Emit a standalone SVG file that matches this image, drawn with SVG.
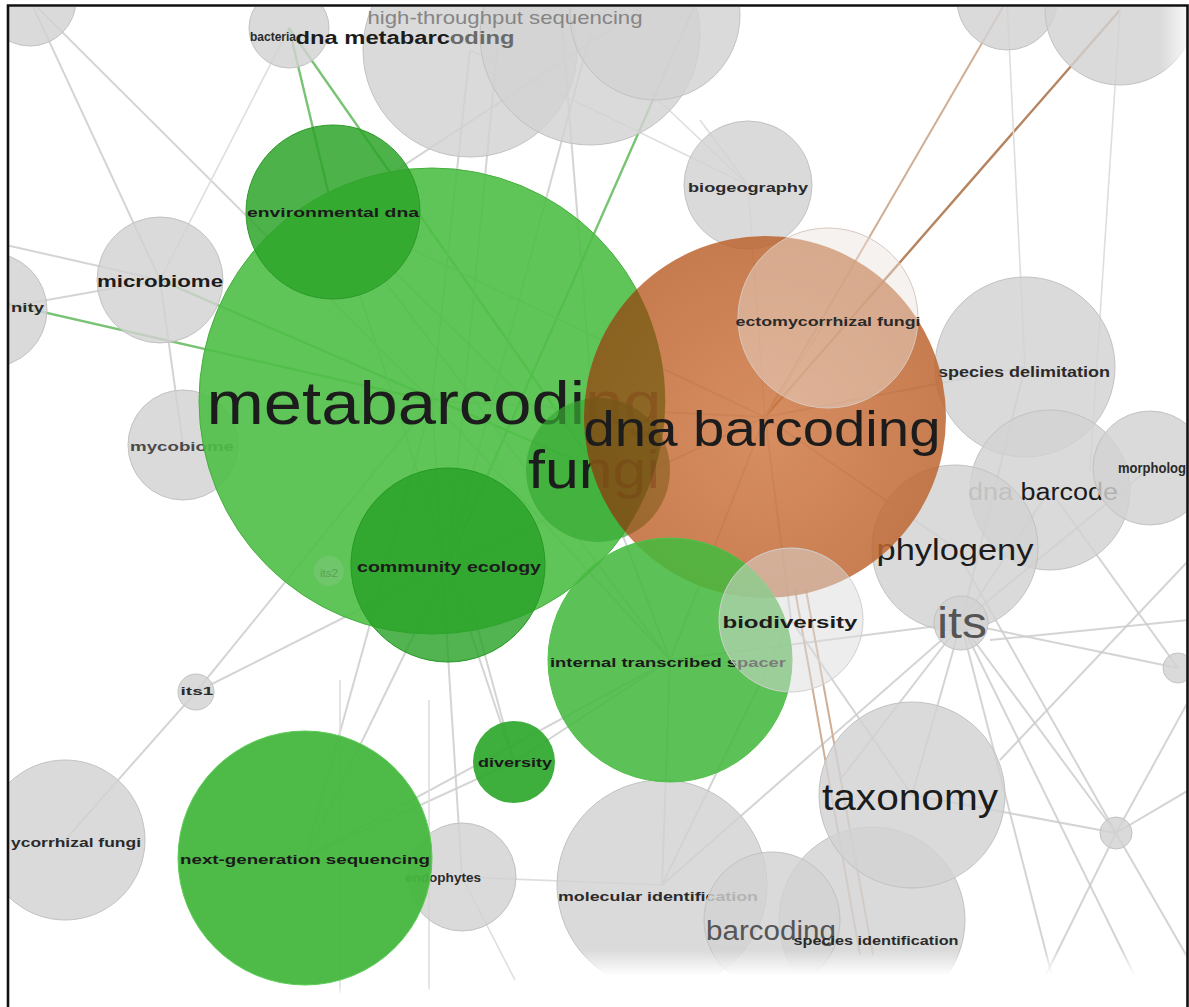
<svg xmlns="http://www.w3.org/2000/svg" width="1189" height="1007" viewBox="0 0 1189 1007">
<defs>
<style>
.g{fill:#d2d2d2;fill-opacity:.82;stroke:#c2c2c2;stroke-width:1}
.t{font-family:"Liberation Sans",Arial,sans-serif;fill:#1c1c1c;text-anchor:middle}
.s{font-weight:bold;font-size:13px;fill:#2a2a2a}
.b{font-weight:bold}
.e{stroke:#cdcdcd;stroke-width:2;fill:none;opacity:.85}
.ef{stroke:#dedede;stroke-width:1.6;fill:none}
.eg{stroke:#62b85c;stroke-width:2.4;fill:none;opacity:.85}
.eo{stroke:#b5835e;stroke-width:2.4;fill:none}
.et{stroke:#cfae95;stroke-width:2;fill:none}
</style>
<clipPath id="frame"><rect x="9" y="7" width="1177" height="1000"/></clipPath>
<clipPath id="oc"><circle cx="765" cy="417" r="181"/></clipPath>
<radialGradient id="og" cx="0.5" cy="0.55" r="0.55">
<stop offset="0" stop-color="#cf7843"/><stop offset="1" stop-color="#bb622c"/>
</radialGradient>
<linearGradient id="fb" x1="0" y1="0" x2="0" y2="1">
<stop offset="0" stop-color="#fff" stop-opacity="0"/><stop offset="0.45" stop-color="#fff" stop-opacity="1"/>
</linearGradient>
<linearGradient id="fr" x1="0" y1="0" x2="1" y2="0">
<stop offset="0" stop-color="#fff" stop-opacity="0"/><stop offset="1" stop-color="#fff" stop-opacity="0.9"/>
</linearGradient>
</defs>
<rect width="1189" height="1007" fill="#fff"/>
<g clip-path="url(#frame)">
<g id="connectors">
<line class="e" x1="30" y1="0" x2="160" y2="280"/>
<line class="e" x1="30" y1="0" x2="432" y2="401"/>
<line class="e" x1="-60" y1="230" x2="160" y2="280"/>
<line class="e" x1="-10" y1="310" x2="160" y2="280"/>
<line class="eg" x1="-10" y1="300" x2="432" y2="401"/>
<line class="eg" x1="160" y1="280" x2="598" y2="470"/>
<line class="e" x1="160" y1="280" x2="183" y2="445"/>
<line class="ef" x1="160" y1="280" x2="289" y2="28"/>
<line class="eg" x1="289" y1="28" x2="333" y2="212"/>
<line class="eg" x1="289" y1="28" x2="598" y2="470"/>
<line class="e" x1="470" y1="50" x2="432" y2="401"/>
<line class="e" x1="500" y1="20" x2="448" y2="565"/>
<line class="e" x1="590" y1="35" x2="448" y2="565"/>
<line class="e" x1="560" y1="0" x2="598" y2="470"/>
<line class="eg" x1="697" y1="0" x2="448" y2="565"/>
<line class="e" x1="640" y1="10" x2="333" y2="212"/>
<line class="ef" x1="470" y1="50" x2="748" y2="185"/>
<line class="ef" x1="590" y1="35" x2="748" y2="185"/>
<line class="ef" x1="748" y1="185" x2="765" y2="417"/>
<line class="ef" x1="700" y1="120" x2="748" y2="185"/>
<line class="eo" x1="765" y1="417" x2="1120" y2="10"/>
<line class="et" x1="765" y1="417" x2="1007" y2="0"/>
<line class="ef" x1="1007" y1="0" x2="1025" y2="367"/>
<line class="ef" x1="1120" y1="10" x2="1090" y2="470"/>
<line class="e" x1="1025" y1="367" x2="961" y2="623"/>
<line class="e" x1="1050" y1="490" x2="961" y2="623"/>
<line class="e" x1="1150" y1="468" x2="961" y2="623"/>
<line class="e" x1="961" y1="623" x2="1116" y2="833"/>
<line class="e" x1="961" y1="623" x2="1178" y2="668"/>
<line class="e" x1="961" y1="623" x2="912" y2="795"/>
<line class="e" x1="961" y1="623" x2="1060" y2="1007"/>
<line class="e" x1="961" y1="623" x2="1150" y2="1007"/>
<line class="e" x1="961" y1="623" x2="840" y2="780"/>
<line class="e" x1="955" y1="548" x2="1116" y2="833"/>
<line class="e" x1="1116" y1="833" x2="1189" y2="700"/>
<line class="e" x1="1116" y1="833" x2="1189" y2="790"/>
<line class="e" x1="1116" y1="833" x2="1030" y2="1007"/>
<line class="e" x1="1116" y1="833" x2="1189" y2="960"/>
<line class="e" x1="912" y1="795" x2="1116" y2="833"/>
<line class="e" x1="1000" y1="760" x2="1189" y2="560"/>
<line class="e" x1="1178" y1="668" x2="1050" y2="490"/>
<line class="e" x1="990" y1="640" x2="1189" y2="620"/>
<line class="e" x1="670" y1="660" x2="961" y2="623"/>
<line class="e" x1="662" y1="885" x2="961" y2="623"/>
<line class="e" x1="662" y1="885" x2="670" y2="660"/>
<line class="e" x1="196" y1="692" x2="432" y2="401"/>
<line class="e" x1="196" y1="692" x2="448" y2="565"/>
<line class="e" x1="196" y1="692" x2="65" y2="840"/>
<line class="e" x1="448" y1="565" x2="305" y2="858"/>
<line class="e" x1="432" y1="401" x2="305" y2="858"/>
<line class="e" x1="432" y1="401" x2="462" y2="877"/>
<line class="e" x1="448" y1="565" x2="514" y2="762"/>
<line class="e" x1="470" y1="600" x2="514" y2="762"/>
<line class="e" x1="305" y1="858" x2="514" y2="762"/>
<line class="e" x1="305" y1="858" x2="670" y2="660"/>
<line class="e" x1="514" y1="762" x2="670" y2="660"/>
<line class="ef" x1="462" y1="877" x2="662" y2="885"/>
<line class="ef" x1="462" y1="877" x2="515" y2="980"/>
<line class="ef" x1="429" y1="700" x2="429" y2="990"/>
<line class="ef" x1="340" y1="680" x2="340" y2="1000"/>
<line class="e" x1="333" y1="212" x2="448" y2="565"/>
<line class="e" x1="333" y1="212" x2="598" y2="470"/>
<line class="e" x1="333" y1="212" x2="670" y2="660"/>
<line class="e" x1="333" y1="212" x2="765" y2="417"/>
<line class="e" x1="432" y1="401" x2="765" y2="417"/>
<line class="e" x1="432" y1="401" x2="670" y2="660"/>
<line class="e" x1="448" y1="565" x2="765" y2="417"/>
<line class="e" x1="598" y1="470" x2="670" y2="660"/>
<line class="e" x1="765" y1="417" x2="828" y2="318"/>
<line class="e" x1="765" y1="417" x2="955" y2="548"/>
<line class="e" x1="765" y1="417" x2="791" y2="620"/>
<line class="e" x1="765" y1="417" x2="670" y2="660"/>
<line class="e" x1="765" y1="417" x2="1025" y2="367"/>
<line class="et" x1="795" y1="590" x2="860" y2="955"/>
<line class="et" x1="806" y1="590" x2="873" y2="955"/>
<line class="e" x1="791" y1="620" x2="912" y2="795"/>
<line class="e" x1="791" y1="620" x2="662" y2="885"/>
</g>
<g id="n-top-left"><circle class="g" cx="30" cy="0" r="46"/></g>
<g id="n-top-a"><circle class="g" cx="470" cy="50" r="107"/></g>
<g id="n-top-b"><circle class="g" cx="590" cy="35" r="110"/></g>
<g id="n-top-c"><circle class="g" cx="655" cy="15" r="85"/></g>
<g id="n-bacteria"><circle class="g" cx="289" cy="28" r="40"/><text class="t s" x="273" y="41" style="font-size:12px" textLength="46" lengthAdjust="spacingAndGlyphs">bacteria</text></g>
<g id="n-dna-metabarcoding"><text class="t b" x="405" y="44" font-size="18" textLength="219" lengthAdjust="spacingAndGlyphs"><tspan>dna metabarc</tspan><tspan fill="#6a6a6a">oding</tspan></text></g>
<g id="n-high-throughput-sequencing"><text class="t" x="505" y="24" font-size="19" textLength="275" lengthAdjust="spacingAndGlyphs" style="fill:#858585">high-throughput sequencing</text></g>
<g id="n-top-d"><circle class="g" cx="1007" cy="0" r="50"/></g>
<g id="n-top-e"><circle class="g" cx="1120" cy="10" r="75"/></g>
<g id="n-biogeography"><circle class="g" cx="748" cy="185" r="64"/><text class="t s" x="748" y="192" textLength="120" lengthAdjust="spacingAndGlyphs">biogeography</text></g>
<g id="n-microbiome"><circle class="g" cx="160" cy="280" r="63"/><text class="t b" x="160" y="287" font-size="16" textLength="126" lengthAdjust="spacingAndGlyphs">microbiome</text></g>
<g id="n-community"><circle class="g" cx="-10" cy="310" r="57"/><text class="t s" x="44" y="312" textLength="33" lengthAdjust="spacingAndGlyphs" style="text-anchor:end">nity</text></g>
<g id="n-mycobiome"><circle class="g" cx="183" cy="445" r="55"/><text class="t s" x="182" y="451" textLength="104" lengthAdjust="spacingAndGlyphs" style="fill:#4a4a4a">mycobiome</text></g>
<g id="n-its1"><circle class="g" cx="196" cy="692" r="18"/><text class="t s" x="197" y="695" style="font-size:11.5px" textLength="33" lengthAdjust="spacingAndGlyphs">its1</text></g>
<g id="n-mycorrhizal-fungi"><circle class="g" cx="65" cy="840" r="80"/><text class="t s" x="11" y="847" textLength="130" lengthAdjust="spacingAndGlyphs" style="text-anchor:start">ycorrhizal fungi</text></g>
<g id="n-endophytes"><circle class="g" cx="462" cy="877" r="54"/><text class="t s" x="443" y="882" textLength="76" lengthAdjust="spacingAndGlyphs">endophytes</text></g>
<g id="n-molecular-identification"><circle class="g" cx="662" cy="885" r="105"/><text class="t s" x="658" y="901" textLength="200" lengthAdjust="spacingAndGlyphs">molecular identification</text></g>
<g id="n-species-identification"><circle class="g" cx="872" cy="920" r="93"/></g>
<g id="n-barcoding"><circle class="g" cx="772" cy="920" r="68"/><text class="t" x="771" y="940" font-size="27" textLength="130" lengthAdjust="spacingAndGlyphs" style="fill:#555">barcoding</text></g>
<g id="n-species-identification-label"><text class="t s" x="876" y="945" textLength="165" lengthAdjust="spacingAndGlyphs">species identification</text></g>
<g id="n-taxonomy"><circle class="g" cx="912" cy="795" r="93"/><text class="t" x="910" y="810" font-size="36" textLength="176" lengthAdjust="spacingAndGlyphs">taxonomy</text></g>
<g id="n-small-1"><circle class="g" cx="1178" cy="668" r="15"/></g>
<g id="n-small-2"><circle class="g" cx="1116" cy="833" r="16"/></g>
<g id="n-species-delimitation"><circle class="g" cx="1025" cy="367" r="90"/><text class="t s" x="1024" y="377" style="font-size:14px" textLength="172" lengthAdjust="spacingAndGlyphs">species delimitation</text></g>
<g id="n-dna-barcode"><circle class="g" cx="1050" cy="490" r="80"/><text class="t" x="1043" y="500" font-size="23" textLength="150" lengthAdjust="spacingAndGlyphs"><tspan fill="#777">dna </tspan><tspan>barcode</tspan></text></g>
<g id="n-morphology"><circle class="g" cx="1150" cy="468" r="57"/><text class="t s" x="1118" y="473" style="font-size:14px;text-anchor:start" textLength="68" lengthAdjust="spacingAndGlyphs">morpholog</text></g>
<g id="n-phylogeny"><circle class="g" cx="955" cy="548" r="83"/><text class="t" x="955" y="560" font-size="30" textLength="157" lengthAdjust="spacingAndGlyphs">phylogeny</text></g>
<g id="n-its"><circle class="g" cx="961" cy="623" r="27"/><text class="t" x="962" y="638" font-size="44" textLength="50" lengthAdjust="spacingAndGlyphs" style="fill:#555">its</text></g>
<g id="n-metabarcoding"><circle cx="432" cy="401" r="233" fill="#4fbf47" fill-opacity=".9" stroke="#45b03d"/><text class="t" x="434" y="424" font-size="62" textLength="455" lengthAdjust="spacingAndGlyphs">metabarcoding</text></g>
<g id="n-its2"><circle cx="329" cy="571" r="15" fill="#8ac884" fill-opacity=".4"/><text class="t" x="329" y="577" font-size="11.5" style="fill:#4a7a45" opacity=".5">its2</text></g>
<g id="n-fungi"><circle cx="598" cy="470" r="72" fill="#38aa33" fill-opacity=".7"/><text class="t" x="594" y="488" font-size="54" textLength="132" lengthAdjust="spacingAndGlyphs">fungi</text></g>
<g id="n-environmental-dna"><circle cx="333" cy="212" r="87" fill="#2ea42a" fill-opacity=".85" stroke="#2a9a26"/><text class="t s" x="333" y="217" style="fill:#1a1a1a" textLength="172" lengthAdjust="spacingAndGlyphs">environmental dna</text></g>
<g id="n-community-ecology"><circle cx="448" cy="565" r="97" fill="#27a025" fill-opacity=".8" stroke="#239a21"/><text class="t b" x="449" y="572" font-size="15.5" textLength="184" lengthAdjust="spacingAndGlyphs">community ecology</text></g>
<g id="n-next-generation-sequencing"><circle cx="305" cy="858" r="127" fill="#44b63e" fill-opacity=".95" stroke="#5ccc55"/><text class="t s" x="305" y="864" style="fill:#1a1a1a" textLength="250" lengthAdjust="spacingAndGlyphs">next-generation sequencing</text></g>
<g id="n-diversity"><circle cx="514" cy="762" r="41" fill="#2ea82c" fill-opacity=".92"/><text class="t s" x="515" y="767" style="fill:#1a1a1a" textLength="74" lengthAdjust="spacingAndGlyphs">diversity</text></g>
<g id="n-dna-barcoding"><circle cx="765" cy="417" r="181" fill="url(#og)" fill-opacity=".84"/><g clip-path="url(#oc)"><circle cx="432" cy="401" r="233" fill="#5a4c06" fill-opacity=".42"/><circle cx="598" cy="470" r="72" fill="#3d3000" fill-opacity=".18"/></g><text class="t" x="762" y="446" font-size="50" textLength="357" lengthAdjust="spacingAndGlyphs">dna barcoding</text></g>
<g id="n-internal-transcribed-spacer"><circle cx="670" cy="660" r="122" fill="#45b83f" fill-opacity=".88" stroke="#52c24a"/><text class="t s" x="668" y="667" style="fill:#1a1a1a" textLength="236" lengthAdjust="spacingAndGlyphs">internal transcribed spacer</text></g>
<g id="n-ectomycorrhizal-fungi"><circle cx="828" cy="318" r="90" fill="#ece2dc" fill-opacity=".45" stroke="#d8c8c0"/><text class="t s" x="828" y="326" textLength="185" lengthAdjust="spacingAndGlyphs">ectomycorrhizal fungi</text></g>
<g id="n-biodiversity"><circle cx="791" cy="620" r="72" fill="#dcdcdc" fill-opacity=".5" stroke="#d0d0d0"/><text class="t b" x="790" y="628" font-size="17" textLength="135" lengthAdjust="spacingAndGlyphs">biodiversity</text></g>
<rect x="530" y="950" width="660" height="57" fill="url(#fb)"/>
<rect x="0" y="986" width="530" height="21" fill="url(#fb)"/>
<rect x="1160" y="0" width="30" height="140" fill="url(#fr)"/>
</g>
<path d="M8 1007V5.5H1187.5V1007" fill="none" stroke="#111" stroke-width="2.6"/>
</svg>
